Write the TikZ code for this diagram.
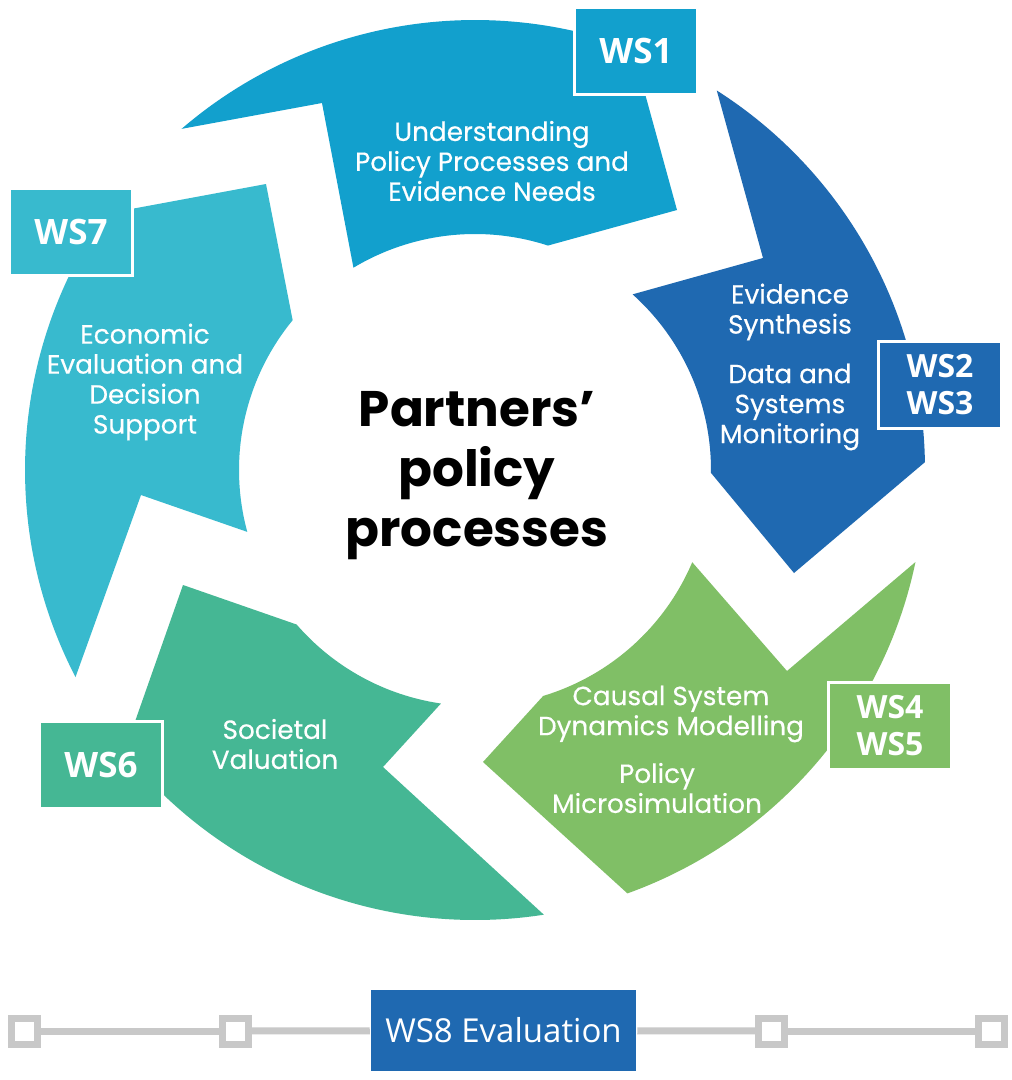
\documentclass[tikz,border=0pt]{standalone}
\usepackage{fontspec}
\setmainfont{Poppins}
\newfontfamily\segfont[FakeBold=0.4]{Poppins}
\newfontfamily\wsfont{Open Sans}
\usetikzlibrary{calc}
\definecolor{cA}{HTML}{12A0CD}
\definecolor{cB}{HTML}{1F69B1}
\definecolor{cC}{HTML}{80BF66}
\definecolor{cD}{HTML}{45B794}
\definecolor{cE}{HTML}{38BACE}
\definecolor{tgray}{HTML}{C8C8C8}
\begin{document}
\begin{tikzpicture}[x=1pt,y=-1pt,
  wsbox/.style={draw=white, line width=3pt, text=white, inner sep=0pt, align=center,
     minimum width=123pt, minimum height=87pt},
  wsone/.style={wsbox, font=\wsfont\bfseries\fontsize{35}{40}\selectfont},
  wstwo/.style={wsbox, font=\wsfont\bfseries\fontsize{32}{37}\selectfont},
  seglabel/.style={text=white, align=center, inner sep=0pt, font=\segfont\fontsize{26.3}{30}\selectfont},
  sq/.style={draw=tgray, fill=white, line width=7pt, minimum size=26pt, inner sep=0pt},
  tline/.style={draw=tgray, line width=7pt}]
\fill[white] (0,0) rectangle (1012,1080);
\useasboundingbox (0,0) rectangle (1012,1080);
\coordinate (C) at (475,470);
% WS1 segment
\fill[cA] ($(C)+(-130.7:450)$) arc[start angle=-130.7,end angle=-69.5,radius=450]
  -- (677,210) -- ($(C)+(-72:236)$) arc[start angle=-72,end angle=-121,radius=236]
  -- (322,103) -- cycle;
% WS2/3 segment
\fill[cB] ($(C)+(-57.5:450)$) arc[start angle=-57.5,end angle=-1,radius=450]
  -- (794,573) -- ($(C)+(0.7:236)$) arc[start angle=0.7,end angle=-48.1,radius=236]
  -- (763,258) -- cycle;
% WS4/5 segment
\fill[cC] ($(C)+(11.8:450)$) arc[start angle=11.8,end angle=70.2,radius=450]
  -- (483,762) -- ($(C)+(73.2:236)$) arc[start angle=73.2,end angle=23,radius=236]
  -- (787,671) -- cycle;
% WS6 segment
\fill[cD] ($(C)+(81.2:450)$) arc[start angle=81.2,end angle=141.2,radius=450]
  -- (183,585) -- ($(C)+(139.1:236)$) arc[start angle=139.1,end angle=98.3,radius=236]
  -- (383,767) -- cycle;
% WS7 segment
\fill[cE] ($(C)+(152.6:450)$) arc[start angle=152.6,end angle=214.7,radius=450]
  -- (266,184) -- ($(C)+(219.4:236)$) arc[start angle=219.4,end angle=164.8,radius=236]
  -- (141,495) -- cycle;

% segment texts
\node[seglabel] (t1) at (492,161) {Understanding\\Policy Processes and\\Evidence Needs};
\node[seglabel] (t2a) at (790,312) {Evidence\\Synthesis};
\node[seglabel] (t2b) at (790,407) {Data and\\Systems\\Monitoring};
\node[seglabel] (t4a) at (671,714) {Causal System\\Dynamics Modelling};
\node[seglabel] (t4b) at (657,788) {Policy\\Microsimulation};
\node[seglabel] (t6) at (275,744) {Societal\\Valuation};
\node[seglabel] (t7) at (145,382) {Economic\\Evaluation and\\Decision\\Support};

% centre
\node[align=center, inner sep=0pt, font=\bfseries\fontsize{50}{60}\selectfont] (centre) at (477,476)
  {Partners’\\policy\\processes};

% WS boxes
\node[wsone, fill=cA] (ws1) at (636,51) {WS1};
\node[wstwo, fill=cB] (ws23) at (940,385) {WS2\\WS3};
\node[wstwo, fill=cC] (ws45) at (890,726) {WS4\\WS5};
\node[wsone, fill=cD] (ws6) at (101,765) {WS6};
\node[wsone, fill=cE] (ws7) at (71,232) {WS7};

% bottom timeline
\node[sq] (s1) at (24.5,1031) {};
\node[sq] (s2) at (235.5,1031) {};
\node[sq] (s3) at (771.5,1031) {};
\node[sq] (s4) at (991.5,1031) {};
\node[fill=cB, draw=white, line width=1.5pt, text=white, inner sep=0pt,
  minimum width=266pt, minimum height=82pt,
  font=\wsfont\fontsize{33}{38}\selectfont] (ws8) at (503.5,1030.5) {WS8 Evaluation};
\draw[tline] (s1) -- (s2);
\draw[tline] (s2) -- (ws8);
\draw[tline] (ws8) -- (s3);
\draw[tline] (s3) -- (s4);
\end{tikzpicture}
\end{document}
